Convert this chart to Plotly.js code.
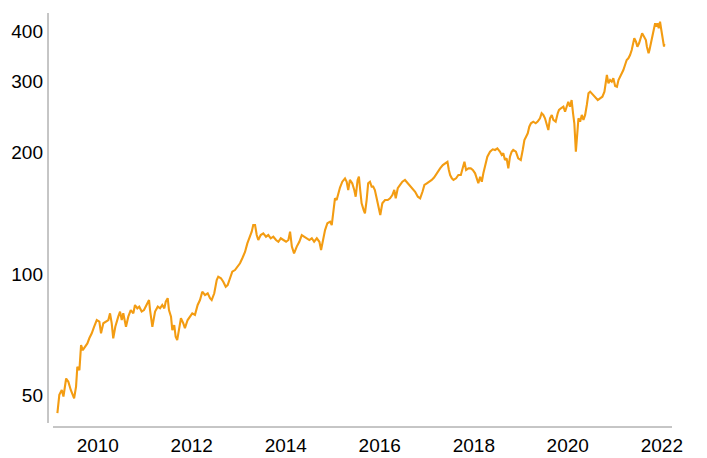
<!DOCTYPE html>
<html>
<head>
<meta charset="utf-8">
<script src="https://cdn.plot.ly/plotly-3.0.1.min.js"></script>
<style>html,body{margin:0;padding:0;background:#fff;}#chart{width:707px;height:458px;}</style>
</head>
<body>
<div id="chart"></div>
<script>
const dates = [
"2009-02-21","2009-03-08","2009-03-27","2009-04-09","2009-04-30","2009-05-17","2009-06-05","2009-06-20","2009-07-01","2009-07-16",
"2009-07-26","2009-08-11","2009-08-24","2009-09-06","2009-09-24","2009-10-12","2009-10-27","2009-11-15","2009-12-03","2009-12-24",
"2010-01-13","2010-01-26","2010-02-13","2010-03-06","2010-03-24","2010-04-06","2010-04-19","2010-05-01","2010-05-17","2010-06-09",
"2010-06-23","2010-07-06","2010-07-18","2010-08-08","2010-08-26","2010-09-14","2010-10-04","2010-10-17","2010-11-04","2010-11-19",
"2010-12-08","2010-12-26","2011-01-16","2011-02-03","2011-02-11","2011-03-01","2011-03-22","2011-04-12","2011-04-30","2011-05-17",
"2011-06-02","2011-06-13","2011-06-28","2011-07-08","2011-07-24","2011-08-03","2011-08-18","2011-08-29","2011-09-10","2011-09-23",
"2011-10-09","2011-10-27","2011-11-09","2011-11-30","2011-12-18","2012-01-05","2012-01-26","2012-02-16","2012-03-05","2012-03-23",
"2012-04-13","2012-05-04","2012-05-22","2012-06-04","2012-06-24","2012-07-13","2012-07-25","2012-08-15","2012-09-02","2012-09-21",
"2012-10-06","2012-10-24","2012-11-11","2012-12-02","2012-12-23","2013-01-10","2013-01-28","2013-02-18","2013-03-08","2013-03-24",
"2013-04-11","2013-04-23","2013-05-07","2013-05-20","2013-06-01","2013-06-20","2013-07-10","2013-07-31","2013-08-18","2013-09-06",
"2013-09-26","2013-10-17","2013-11-04","2013-11-23","2013-12-13","2014-01-03","2014-01-21","2014-02-03","2014-02-17","2014-03-06",
"2014-03-27","2014-04-16","2014-05-05","2014-05-23","2014-06-13","2014-07-03","2014-07-22","2014-08-09","2014-08-30","2014-09-19",
"2014-10-02","2014-10-15","2014-11-02","2014-11-20","2014-12-11","2014-12-24","2015-01-05","2015-01-18","2015-01-31","2015-02-13",
"2015-02-26","2015-03-16","2015-04-06","2015-04-19","2015-05-01","2015-05-14","2015-06-01","2015-06-17","2015-06-28","2015-07-13",
"2015-07-23","2015-08-02","2015-08-13","2015-08-29","2015-09-08","2015-09-21","2015-10-03","2015-10-17","2015-10-30","2015-11-11",
"2015-11-24","2015-12-08","2015-12-20","2016-01-05","2016-01-21","2016-02-11","2016-03-03","2016-03-21","2016-04-08","2016-04-23",
"2016-05-04","2016-05-20","2016-06-07","2016-06-25","2016-07-15","2016-08-06","2016-08-24","2016-09-11","2016-10-02","2016-10-23",
"2016-11-10","2016-11-28","2016-12-13","2017-01-01","2017-01-19","2017-02-08","2017-02-26","2017-03-24","2017-04-14","2017-05-05",
"2017-05-23","2017-06-10","2017-06-21","2017-07-01","2017-07-14","2017-07-27","2017-08-16","2017-09-03","2017-09-22","2017-10-07",
"2017-10-20","2017-11-02","2017-11-20","2017-12-08","2017-12-24","2018-01-11","2018-01-24","2018-02-05","2018-02-19","2018-03-04",
"2018-03-16","2018-03-29","2018-04-16","2018-05-07","2018-05-28","2018-06-15","2018-07-03","2018-07-24","2018-08-06","2018-08-18",
"2018-08-31","2018-09-13","2018-09-26","2018-10-09","2018-10-22","2018-11-03","2018-11-24","2018-12-12","2019-01-01","2019-01-16",
"2019-01-29","2019-02-11","2019-02-24","2019-03-08","2019-03-21","2019-04-08","2019-04-27","2019-05-12","2019-05-30","2019-06-12",
"2019-06-25","2019-07-08","2019-07-21","2019-08-03","2019-08-16","2019-08-30","2019-09-11","2019-09-29","2019-10-15","2019-10-25",
"2019-11-09","2019-11-28","2019-12-11","2019-12-24","2020-01-05","2020-01-18","2020-01-31","2020-02-11","2020-02-21","2020-03-04",
"2020-03-14","2020-03-24","2020-04-06","2020-04-19","2020-05-02","2020-05-15","2020-05-28","2020-06-10","2020-06-23","2020-07-06",
"2020-07-18","2020-07-31","2020-08-21","2020-09-08","2020-09-26","2020-10-12","2020-10-23","2020-10-31","2020-11-12","2020-11-25",
"2020-12-08","2020-12-20","2021-01-03","2021-01-17","2021-01-29","2021-02-11","2021-02-24","2021-03-08","2021-03-21","2021-04-03",
"2021-04-16","2021-04-29","2021-05-12","2021-05-25","2021-06-01","2021-06-14","2021-06-25","2021-07-08","2021-07-21","2021-08-01",
"2021-08-16","2021-08-30","2021-09-07","2021-09-20","2021-09-27","2021-10-08","2021-10-16","2021-10-28","2021-11-10","2021-11-18",
"2021-11-28","2021-12-08","2021-12-18","2021-12-28","2022-01-08","2022-01-18","2022-01-20"
];
const values = [
45.2,50.2,51.6,49.7,55.1,54.1,51.6,50.2,49.2,52.6,
58.9,57.8,66.7,64.8,66.0,67.3,69.3,71.3,74.0,76.9,
76.2,71.3,75.5,76.2,76.9,79.9,75.5,69.3,74.0,78.4,
80.7,76.9,79.9,74.0,78.4,81.4,79.9,83.8,82.2,83.0,
80.7,81.4,83.8,86.2,81.4,74.0,80.7,83.0,82.2,83.8,
82.2,85.4,87.1,81.4,78.4,72.6,74.7,69.9,68.6,72.6,
77.7,75.5,73.4,76.9,78.4,79.9,79.2,83.8,86.2,90.4,
88.7,89.6,87.1,86.2,89.6,96.6,98.5,97.6,95.7,93.0,
93.9,97.6,101.3,102.3,104.3,106.3,109.4,113.4,119.1,122.6,
127.3,132.2,132.2,124.9,121.4,124.9,126.1,123.7,124.9,122.6,
123.7,121.4,120.2,122.6,121.4,120.2,121.4,127.3,116.9,112.5,
116.9,120.2,124.9,123.7,122.6,121.4,122.6,120.2,122.6,120.2,
114.7,120.2,128.5,133.6,134.8,132.2,144.0,154.0,152.5,158.5,
163.8,169.3,172.6,169.3,161.5,171.0,167.8,161.5,155.4,171.0,
174.2,161.5,149.7,144.0,141.4,152.5,167.8,169.3,164.6,164.6,
161.5,154.0,146.8,140.0,149.7,152.5,152.5,154.0,156.9,161.5,
154.0,163.1,166.2,169.3,171.0,167.8,166.2,163.1,159.9,155.4,
154.0,159.9,166.2,167.8,169.3,171.0,173.4,179.2,182.7,186.2,
188.0,189.7,181.0,175.9,172.6,171.0,172.6,175.9,175.9,182.7,
189.7,181.0,182.7,182.7,181.0,177.6,172.6,167.8,174.2,169.3,
177.6,184.4,195.3,200.9,203.7,202.9,204.8,200.9,197.2,199.1,
191.6,193.5,182.7,195.3,200.9,202.9,200.9,193.5,191.6,202.9,
214.8,218.9,223.2,231.7,236.3,238.5,236.3,238.5,243.1,250.2,
247.8,243.1,236.3,227.4,243.1,247.8,240.8,238.5,250.2,254.9,
257.4,259.7,252.4,262.3,267.2,259.7,269.8,250.2,236.3,200.9,
227.4,243.1,238.5,247.8,240.8,247.8,262.3,280.4,283.0,280.4,
277.7,275.0,269.8,272.5,275.0,283.0,302.5,311.2,296.8,302.5,
299.6,305.4,292.3,291.1,302.5,308.2,314.2,320.2,329.5,339.0,
342.3,348.8,358.9,372.9,383.7,376.4,365.8,372.9,383.7,394.8,
387.3,380.0,365.8,352.3,358.9,372.9,391.0,406.3,418.0,410.2,
418.0,406.3,421.8,402.3,376.4,365.8,371.5
];
const xTickVals = ["2010-01-01","2012-01-01","2014-01-01","2016-01-01","2018-01-01","2020-01-01","2022-01-01"];
const xTickText = ["2010","2012","2014","2016","2018","2020","2022"];
const yTickVals = [50,100,200,300,400];
const yTickText = ["50","100","200","300","400"];

const trace = {
  x: dates, y: values, type: "scatter", mode: "lines",
  line: {color: "#F39C12", width: 2.1},
  hoverinfo: "skip"
};
const layout = {
  width: 707, height: 458,
  margin: {l: 48, r: 35, t: 13, b: 31, pad: 0},
  paper_bgcolor: "#ffffff", plot_bgcolor: "#ffffff",
  showlegend: false,
  font: {family: "Liberation Sans, Arial, sans-serif", size: 19, color: "#000000"},
  xaxis: {
    type: "date", range: ["2008-12-10", "2022-03-21"],
    tickmode: "array", tickvals: xTickVals, ticktext: xTickText,
    showgrid: false, zeroline: false, showline: false, ticks: "",
    ticklabelstandoff: 5,
    tickfont: {size: 19, color: "#000"}
  },
  yaxis: {
    type: "log", range: [1.6209, 2.6467],
    tickmode: "array", tickvals: yTickVals, ticktext: yTickText,
    showgrid: false, zeroline: false, showline: false, ticks: "",
    ticklabelstandoff: 4,
    tickfont: {size: 19, color: "#000"}
  },
  shapes: [
    {type: "line", xref: "paper", yref: "paper", x0: 0, x1: 0, y0: 0.0097, y1: 1, line: {color: "#8c8c8c", width: 1}},
    {type: "line", xref: "paper", yref: "paper", x0: 0.008, x1: 1, y0: 0, y1: 0, line: {color: "#8c8c8c", width: 1}}
  ]
};
Plotly.newPlot("chart", [trace], layout, {staticPlot: true, displayModeBar: false});
</script>
</body>
</html>
